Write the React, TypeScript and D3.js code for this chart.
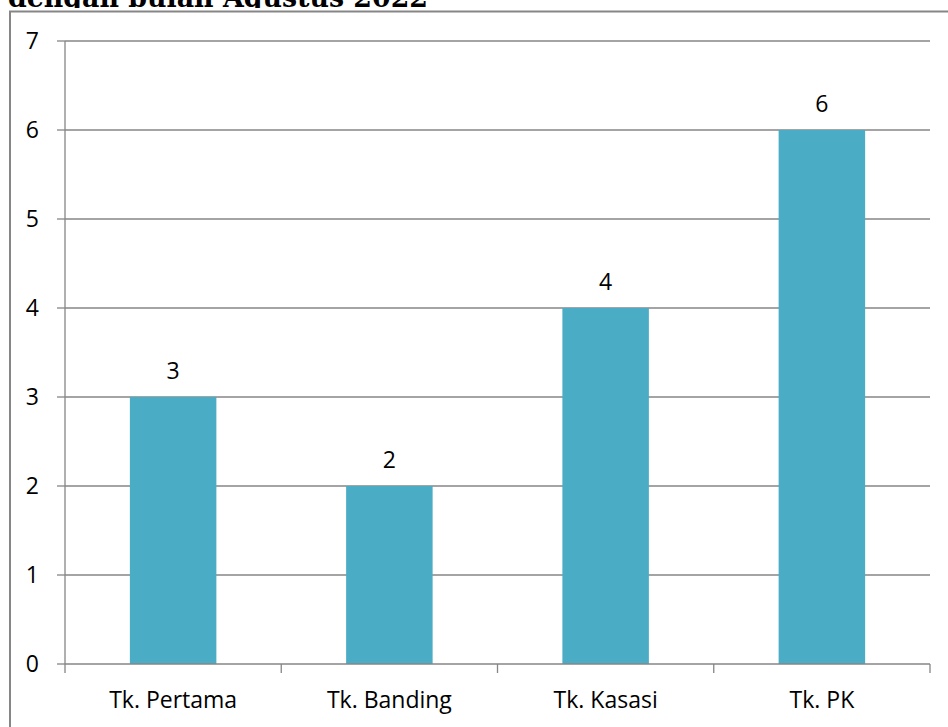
import React from "react";
import * as d3 from "d3";

const categories = ["Tk. Pertama", "Tk. Banding", "Tk. Kasasi", "Tk. PK"];
const values = [3, 2, 4, 6];
const yTicks = [0, 1, 2, 3, 4, 5, 6, 7];
const title = "dengan bulan Agustus 2022";

export default function App() {
  const W = 948, H = 727;
  const left = 65, right = 930, top = 41, bottom = 664;
  const x = d3.scaleBand<string>().domain(categories).range([left, right]).paddingInner(0.6).paddingOuter(0.3);
  const xb = d3.scaleBand<string>().domain(categories).range([left, right]);
  const y = d3.scaleLinear().domain([0, 7]).range([bottom, top]);
  const font = "'Open Sans', 'Noto Sans', sans-serif";
  const grid = "#868686";
  const fs = 23;
  return (
    <svg width={W} height={H} style={{ position: "absolute", left: 0, top: 0 }} fontFamily={font}>
      <rect x={0} y={0} width={W} height={H} fill="#fff" />
      <text x={8} y={7} fontFamily="'DejaVu Serif', serif" fontWeight="bold" fontSize={27} fill="#000" textLength={420} lengthAdjust="spacingAndGlyphs">{title}</text>
      <rect x={0} y={8} width={W} height={H} fill="#fff" />
      <path d={`M10,${H + 5}V11.5H${W + 5}`} fill="none" stroke={grid} strokeWidth={2} />
      {yTicks.map((t) => (
        <g key={t}>
          {t > 0 && <line x1={left} x2={right} y1={y(t)} y2={y(t)} stroke={grid} strokeWidth={1.3} />}
          <line x1={57} x2={left} y1={y(t)} y2={y(t)} stroke={grid} strokeWidth={1.3} />
          <text x={39} y={y(t)} dy="0.36em" textAnchor="end" fontSize={fs} fill="#000">{t}</text>
        </g>
      ))}
      {categories.map((c, i) => (
        <g key={c}>
          <rect x={x(c)} y={y(values[i])} width={x.bandwidth()} height={bottom - y(values[i])} fill="#4BACC6" />
          <text x={x(c)! + x.bandwidth() / 2} y={y(values[i]) - 18} textAnchor="middle" fontSize={fs} fill="#000">{values[i]}</text>
          <text x={xb(c)! + xb.bandwidth() / 2} y={708} textAnchor="middle" fontSize={fs} fill="#000">{c}</text>
        </g>
      ))}
      <line x1={left} x2={left} y1={top} y2={bottom} stroke={grid} strokeWidth={1.3} />
      <line x1={left} x2={right} y1={bottom} y2={bottom} stroke={grid} strokeWidth={1.3} />
      {[...categories.map((c) => xb(c)!), right].map((px, i) => (
        <line key={i} x1={px} x2={px} y1={bottom} y2={673} stroke={grid} strokeWidth={1.3} />
      ))}
    </svg>
  );
}
